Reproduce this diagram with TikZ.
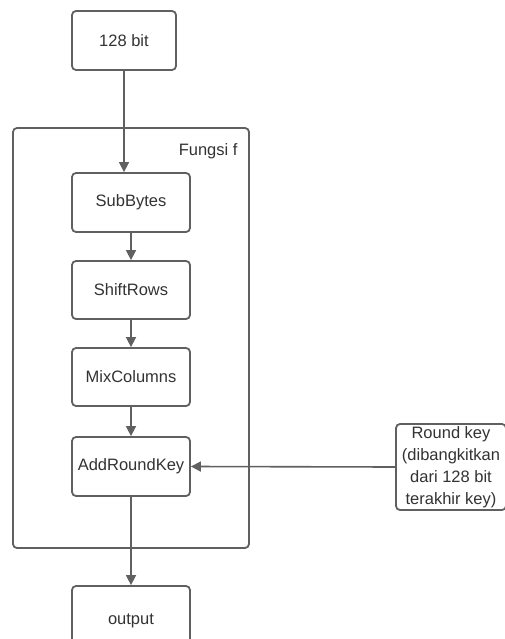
\documentclass[tikz,border=0pt]{standalone}
\usepackage{fontspec}
\setmainfont{Liberation Sans}
\usetikzlibrary{arrows.meta}
\definecolor{ln}{HTML}{606060}
\definecolor{tx}{HTML}{333333}
\begin{document}
\begin{tikzpicture}[x=1pt,y=-1pt,
  box/.style={draw=ln,line width=1.8pt,rounded corners=4pt,fill=white,text=tx,
    font=\fontsize{16.5}{22}\selectfont,inner sep=0pt,align=center},
  conn/.style={draw=ln,line width=1.6pt,-{Triangle[length=10pt,width=10pt]}}]
\useasboundingbox (0,0) rectangle (505,639);
\clip (0,0) rectangle (505,639);
\node[box,minimum width=236pt,minimum height=420pt] (outer) at (131,338) {};
\node[text=tx,font=\fontsize{16.5}{22}\selectfont,anchor=east] (lbl) at (241,151) {Fungsi f};
\node[box,minimum width=104pt,minimum height=59pt] (in) at (124,40.5) {128 bit};
\node[box,minimum width=118pt,minimum height=59pt] (sb) at (131,202.5) {SubBytes};
\node[box,minimum width=118pt,minimum height=58pt] (sr) at (131,290) {ShiftRows};
\node[box,minimum width=118pt,minimum height=58pt] (mc) at (131,377) {MixColumns};
\node[box,minimum width=118pt,minimum height=59pt] (ark) at (131,466.5) {AddRoundKey};
\node[box,minimum width=118pt,minimum height=70pt] (out) at (131,621) {output};
\node[box,minimum width=110pt,minimum height=86pt] (rk) at (451,467) {Round key\\(dibangkitkan\\dari 128 bit\\terakhir key)};
\draw[conn] (in.south) -- (in.south |- sb.north);
\draw[conn] (sb) -- (sr);
\draw[conn] (sr) -- (mc);
\draw[conn] (mc) -- (ark);
\draw[conn] (ark) -- (out);
\draw[conn] (rk.west) -- (ark.east);
\end{tikzpicture}
\end{document}
